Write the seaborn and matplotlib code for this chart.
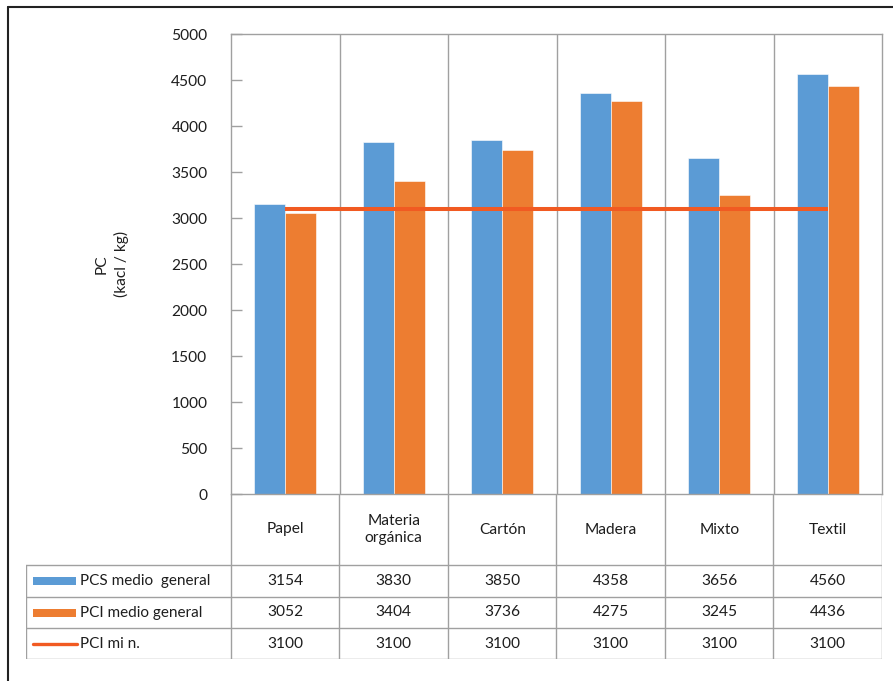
import seaborn as sns
import pandas as pd
import numpy as np
import matplotlib
import matplotlib.pyplot as plt
from matplotlib.lines import Line2D
from matplotlib.patches import Rectangle

matplotlib.use("Agg")

# datos
categorias = ["Papel", "Materia\norgánica", "Cartón", "Madera", "Mixto", "Textil"]
series = ["PCS medio  general", "PCI medio general", "PCI mi n."]
pcs_medio = [3154, 3830, 3850, 4358, 3656, 4560]
pci_medio = [3052, 3404, 3736, 4275, 3245, 4436]
pci_min = [3100, 3100, 3100, 3100, 3100, 3100]
y_ticks = [0, 500, 1000, 1500, 2000, 2500, 3000, 3500, 4000, 4500, 5000]

azul = "#5B9BD5"
naranja = "#ED7D31"
rojo = "#F15A22"
gris = "#A0A0A0"
texto = "#1E1E1E"

sns.set_theme(style="white")
plt.rcParams["font.family"] = ["Lato", "DejaVu Sans"]

df = pd.DataFrame({
    "cat": categorias * 2,
    "val": pcs_medio + pci_medio,
    "serie": [series[0]] * 6 + [series[1]] * 6,
})

W, H = 893, 681
fig = plt.figure(figsize=(W / 100, H / 100), dpi=100)

# pixel helpers for layout
x0, x1, y0, y1 = 231, 882, 34, 494
ax = fig.add_axes([x0 / W, 1 - y1 / H, (x1 - x0) / W, (y1 - y0) / H])

sns.barplot(data=df, x="cat", y="val", hue="serie", palette=[azul, naranja],
            width=0.57, saturation=1, legend=False, ax=ax,
            edgecolor="white", linewidth=0.4)
ax.plot(range(len(categorias)), pci_min, color=rojo, lw=2.9, solid_capstyle="butt", zorder=5)

ax.set_xlim(-0.5, len(categorias) - 0.5)
ax.set_ylim(0, 5000)
ax.set_yticks(y_ticks)
ax.set_yticklabels([str(t) for t in y_ticks], fontsize=11.2, color=texto)
ax.tick_params(axis="y", direction="in", length=8, width=1, color=gris, pad=17, left=True)
ax.set_xticks([])
ax.set_xlabel("")
ax.set_ylabel("")
for b in np.arange(0.5, len(categorias) - 0.5, 1):
    ax.axvline(b, color=gris, lw=1, zorder=0)
for s in ax.spines.values():
    s.set_color(gris)
    s.set_linewidth(1)

fig.text(112 / W, 1 - 264 / H, "PC\n(kacl / kg)", rotation=90, ha="center", va="center",
         multialignment="center", fontsize=11.2, color=texto, linespacing=1.45)

# tabla de datos
t_left, t_bot = 26, 659
row_y = [565, 597, 628, 659]
tax = fig.add_axes([t_left / W, 1 - t_bot / H, (x1 - t_left) / W, (t_bot - y1) / H])
tax.set_xlim(t_left, x1)
tax.set_ylim(t_bot, y1)
tax.axis("off")

cw = (x1 - x0) / len(categorias)
for y in row_y:
    tax.add_line(Line2D([t_left, x1], [y, y], color=gris, lw=1))
tax.add_line(Line2D([t_left, t_left], [row_y[0], t_bot], color=gris, lw=1))
for k in range(len(categorias) + 1):
    xx = x0 + k * cw
    tax.add_line(Line2D([xx, xx], [y1, t_bot], color=gris, lw=1))

for i, c in enumerate(categorias):
    tax.text(x0 + (i + 0.5) * cw, (y1 + row_y[0]) / 2, c, ha="center", va="center",
             fontsize=11.2, color=texto, linespacing=1.35)

valores = [pcs_medio, pci_medio, pci_min]
for r, (nombre, vals) in enumerate(zip(series, valores)):
    yc = (row_y[r] + row_y[r + 1]) / 2
    if r < 2:
        tax.add_patch(Rectangle((33, yc - 4), 43, 8, color=[azul, naranja][r], lw=0))
    else:
        tax.add_line(Line2D([33, 77], [yc, yc], color=rojo, lw=2.4))
    tax.text(80, yc, nombre, ha="left", va="center", fontsize=11, color=texto)
    for i, v in enumerate(vals):
        tax.text(x0 + (i + 0.5) * cw, yc, str(v), ha="center", va="center",
                 fontsize=11.2, color=texto)

# marco exterior
fig.add_artist(Line2D([8 / W, 8 / W], [0, 1 - 7 / H], color="#222222", lw=1.5))
fig.add_artist(Line2D([8 / W, 1], [1 - 7 / H, 1 - 7 / H], color="#222222", lw=1.5))

fig.savefig("out.png", dpi=100)
